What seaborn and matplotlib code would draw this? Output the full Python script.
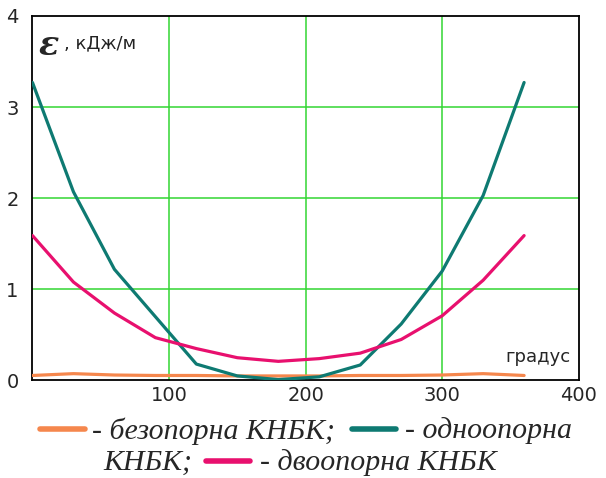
import numpy as np
import pandas as pd
import matplotlib
matplotlib.use("Agg")
import matplotlib.pyplot as plt
from matplotlib.lines import Line2D
import seaborn as sns

# ---- data ----
angle = [0, 30, 60, 90, 120, 150, 180, 210, 240, 270, 300, 330, 360]
bezoporna = [0.055, 0.075, 0.06, 0.055, 0.055, 0.05, 0.05, 0.05, 0.055, 0.055, 0.06, 0.075, 0.055]
odnooporna = [3.27, 2.07, 1.22, 0.70, 0.18, 0.05, 0.01, 0.04, 0.17, 0.62, 1.20, 2.03, 3.27]
dvooporna = [1.59, 1.08, 0.74, 0.47, 0.35, 0.25, 0.21, 0.24, 0.30, 0.45, 0.71, 1.10, 1.59]
series_names = ["безопорна КНБК", "одноопорна КНБК", "двоопорна КНБК"]
colors = ["#F5874D", "#0E7A72", "#E8106E"]
x_ticks = [100, 200, 300, 400]
y_ticks = [0, 1, 2, 3, 4]

df = pd.DataFrame({
    "angle": angle * 3,
    "value": bezoporna + odnooporna + dvooporna,
    "series": [series_names[0]] * len(angle) + [series_names[1]] * len(angle) + [series_names[2]] * len(angle),
})

sns.set_style("white")
plt.rcParams["font.family"] = ["DejaVu Sans"]

fig = plt.figure(figsize=(6.06, 4.78), dpi=100)
ax = fig.add_axes([0.0536, 0.204, 0.9014, 0.7626])

sns.lineplot(data=df, x="angle", y="value", hue="series", palette=colors,
             hue_order=series_names, linewidth=2.3, legend=False, ax=ax,
             zorder=3, sort=False)

ax.set_xlim(0, 400)
ax.set_ylim(0, 4)
ax.set_xticks(x_ticks)
ax.set_yticks(y_ticks)
ax.set_xticklabels([str(t) for t in x_ticks], fontsize=14)
ax.set_yticklabels([str(t) for t in y_ticks], fontsize=14)
ax.tick_params(length=0, pad=4)
ax.tick_params(axis="y", pad=10)
ax.set_xlabel("")
ax.set_ylabel("")

# grid lines (green) at inner ticks only
for gx in [100, 200, 300]:
    ax.axvline(gx, color="#33D633", lw=1.1, zorder=1)
for gy in [1, 2, 3]:
    ax.axhline(gy, color="#33D633", lw=1.1, zorder=1)

for s in ax.spines.values():
    s.set_color("black")
    s.set_linewidth(1.3)

# axis annotations
ax.text(0.012, 0.965, "ε", transform=ax.transAxes, fontsize=24, fontweight="bold",
        fontstyle="italic", family="DejaVu Serif", va="top", ha="left")
ax.text(0.058, 0.95, ", кДж/м", transform=ax.transAxes, fontsize=13,
        color="#222222", va="top", ha="left")
ax.text(0.985, 0.04, "градус", transform=ax.transAxes, fontsize=13,
        va="bottom", ha="right")

# legend below (manual, two rows)
lfont = dict(family="Liberation Serif", fontstyle="italic", fontsize=21.5)
row1 = 1 - 431 / 478
row2 = 1 - 463 / 478
def swatch(x0, x1, y, c):
    fig.add_artist(Line2D([x0 / 606, x1 / 606], [y, y], color=c, lw=4,
                          transform=fig.transFigure))
swatch(40, 85, row1 + 0.004, colors[0])
fig.text(92 / 606, row1, "- безопорна КНБК;", va="center", ha="left", **lfont)
swatch(352, 396, row1 + 0.004, colors[1])
fig.text(405 / 606, row1, "- одноопорна", va="center", ha="left", **lfont)
fig.text(103 / 606, row2, "КНБК;", va="center", ha="left", **lfont)
swatch(206, 250, row2 + 0.004, colors[2])
fig.text(260 / 606, row2, "- двоопорна КНБК", va="center", ha="left", **lfont)

fig.savefig("out.png", dpi=100)
